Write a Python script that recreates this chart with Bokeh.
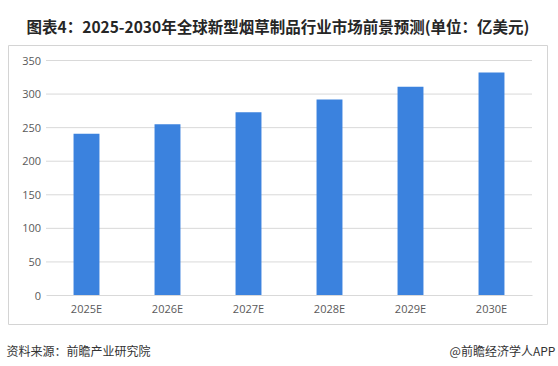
from bokeh.plotting import figure
from bokeh.models import Range1d, FixedTicker, Title, LinearAxis
from bokeh.embed import file_html
from bokeh.resources import INLINE

categories = ["2025E", "2026E", "2027E", "2028E", "2029E", "2030E"]
values = [241, 255, 273, 292, 311, 332]
y_ticks = [0, 50, 100, 150, 200, 250, 300, 350]

title_text = "图表4：2025-2030年全球新型烟草制品行业市场前景预测(单位：亿美元)"
source_text = "资料来源：前瞻产业研究院"
brand_text = "@前瞻经济学人APP"

W, H = 558, 366
BOX_L, BOX_R, BOX_T, BOX_B = 8, 547, 45, 324     # chart box (frame) in page px
PLOT_L, PLOT_R = 45.5, 531.5                      # category band extent
ZERO_Y, PX_PER_UNIT = 295, 235 / 350

n = len(categories)
cat_px = (PLOT_R - PLOT_L) / n
x_start = -(PLOT_L - BOX_L) / cat_px
x_end = n + (BOX_R - PLOT_R) / cat_px
y_end = (ZERO_Y - BOX_T) / PX_PER_UNIT
y_start = -(BOX_B - ZERO_Y) / PX_PER_UNIT

xs = [i + 0.5 for i in range(n)]

p = figure(width=W, height=H, output_backend="svg", toolbar_location=None,
           x_range=Range1d(x_start, x_end), y_range=Range1d(y_start, y_end),
           x_axis_location=None, y_axis_location=None,
           min_border_left=BOX_L, min_border_right=W - BOX_R,
           min_border_top=BOX_T, min_border_bottom=H - BOX_B,
           background_fill_color="white", border_fill_color="white")
p.outline_line_color = "#d4d4d4"
p.outline_line_width = 1
p.xgrid.visible = False
p.ygrid.visible = False

# horizontal grid lines across the category band (one renderer each)
for yv in y_ticks:
    if yv > 0:
        p.line(x=[0, n], y=[yv, yv], line_color="#d9d9d9", line_width=1)

p.vbar(x=xs, top=values, width=0.32, color="#3B82DE", line_color=None)

common = dict(major_tick_line_color=None, minor_tick_line_color=None,
              major_tick_out=0, major_tick_in=0, minor_tick_out=0, minor_tick_in=0,
              major_label_text_font="Open Sans", major_label_text_font_size="11px",
              major_label_text_color="#595959")

# y axis inside the box
yaxis = LinearAxis(fixed_location=0, ticker=FixedTicker(ticks=y_ticks, minor_ticks=[]),
                   axis_line_color=None, major_label_standoff=5, **common)
p.add_layout(yaxis, "left")

# x axis inside the box at y = 0
xaxis = LinearAxis(fixed_location=0, bounds=(0, n), ticker=FixedTicker(ticks=xs, minor_ticks=[]),
                   major_label_overrides={x: c for x, c in zip(xs, categories)},
                   axis_line_color="#d9d9d9", major_label_standoff=5, **common)
p.add_layout(xaxis, "below")

# footer texts via an extra axis below the box
p.extra_x_ranges = {"page": Range1d(BOX_L, BOX_R)}
footer_pos = [78, 502]
footer = LinearAxis(x_range_name="page", ticker=FixedTicker(ticks=footer_pos, minor_ticks=[]),
                    major_label_overrides={footer_pos[0]: source_text, footer_pos[1]: brand_text},
                    axis_line_color=None, major_tick_line_color=None, minor_tick_line_color=None,
                    major_tick_out=0, major_tick_in=0, minor_tick_out=0,
                    major_label_standoff=17, major_label_text_font="Noto Sans CJK SC",
                    major_label_text_font_size="12px", major_label_text_color="#333333")
p.add_layout(footer, "below")

p.add_layout(Title(text=title_text, align="center", text_font="Noto Sans CJK SC",
                   text_font_style="bold", text_font_size="15.5px", text_color="#262626",
                   standoff=17, offset=3), "above")

open("out.html", "w").write(file_html(p, INLINE))
